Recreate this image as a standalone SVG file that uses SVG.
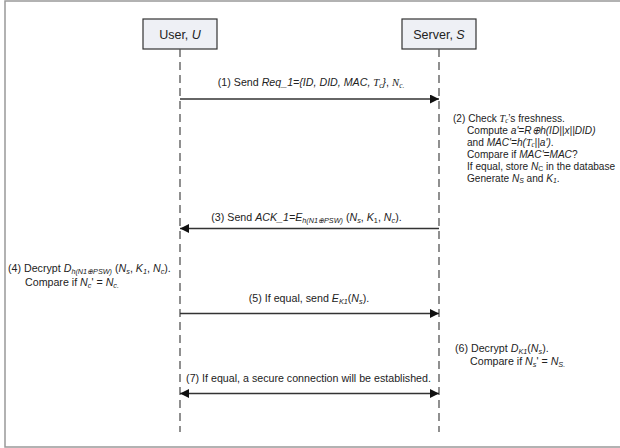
<svg xmlns="http://www.w3.org/2000/svg" width="620" height="448" viewBox="0 0 620 448">
<style>
text{font-family:"Liberation Sans",Arial,sans-serif;font-size:11px;fill:#222}
.i{font-style:italic}
.t{font-family:"Liberation Serif","Times New Roman",serif;font-style:italic}
.s{font-size:7.5px}
.box{fill:#eef0f5;stroke:#333;stroke-width:1.2}
.life{stroke:#555;stroke-width:1.3;stroke-dasharray:8 5;fill:none}
.msg{stroke:#333;stroke-width:1.3;fill:none}
.hd{font-size:12.5px}
</style>
<defs>
<marker id="ah" viewBox="0 0 10 10" refX="10" refY="5" markerWidth="9" markerHeight="9" markerUnits="userSpaceOnUse" orient="auto-start-reverse">
<path d="M0,0 L10,5 L0,10 z" fill="#111"/>
</marker>
</defs>
<rect x="5" y="1" width="620" height="446" fill="#fff" stroke="#999" stroke-width="1.5"/>
<g id="user">
<rect class="box" x="143" y="19" width="74" height="30"/>
<text class="hd" x="180" y="38.5" text-anchor="middle">User, <tspan class="i">U</tspan></text>
</g>
<g id="server">
<rect class="box" x="402" y="19" width="74" height="30"/>
<text class="hd" x="439" y="38.5" text-anchor="middle">Server, <tspan class="i">S</tspan></text>
</g>
<g id="connectors">
<line class="life" x1="180" y1="49" x2="180" y2="432"/>
<line class="life" x1="439" y1="49" x2="439" y2="432"/>
<line class="msg" x1="180" y1="99" x2="439" y2="99" marker-end="url(#ah)"/>
<line class="msg" x1="439" y1="228.5" x2="180" y2="228.5" marker-end="url(#ah)"/>
<line class="msg" x1="180" y1="313.5" x2="439" y2="313.5" marker-end="url(#ah)"/>
<line class="msg" x1="180" y1="393.5" x2="439" y2="393.5" marker-start="url(#ah)" marker-end="url(#ah)"/>
</g>
<g id="labels">
<text transform="translate(311,86) scale(0.97,1)" text-anchor="middle">(1) Send <tspan class="i">Req_1={ID, DID, MAC, </tspan><tspan class="t">T</tspan><tspan class="t s" dy="2">c</tspan><tspan class="i" dy="-2">}</tspan>, <tspan class="t">N</tspan><tspan class="t s" dy="2">c.</tspan></text>
<text transform="translate(306.5,220.5) scale(0.97,1)" text-anchor="middle">(3) Send <tspan class="i">ACK_1=E</tspan><tspan class="i s" dy="2">h(N1⊕PSW)</tspan><tspan dy="-2"> (</tspan><tspan class="i">N</tspan><tspan class="i s" dy="2">s</tspan><tspan dy="-2">, </tspan><tspan class="i">K</tspan><tspan class="s" dy="2">1</tspan><tspan dy="-2">, </tspan><tspan class="i">N</tspan><tspan class="i s" dy="2">c</tspan><tspan dy="-2">).</tspan></text>
<text transform="translate(309,302) scale(0.97,1)" text-anchor="middle">(5) If equal, send <tspan class="i">E</tspan><tspan class="i s" dy="2">K1</tspan><tspan dy="-2">(</tspan><tspan class="i">N</tspan><tspan class="i s" dy="2">s</tspan><tspan dy="-2">).</tspan></text>
<text transform="translate(308.5,381.5) scale(0.97,1)" text-anchor="middle">(7) If equal, a secure connection will be established.</text>
</g>
<g id="step2">
<text transform="translate(453,121.5) scale(0.92,1)">(2) Check <tspan class="t">T</tspan><tspan class="t s" dy="1.5">c</tspan><tspan dy="-1.5">’s freshness.</tspan></text>
<text transform="translate(467,133.5) scale(0.92,1)">Compute <tspan class="i">a'=R⊕h(ID||x||DID)</tspan></text>
<text transform="translate(467,145.5) scale(0.92,1)">and <tspan class="i">MAC'=h(</tspan><tspan class="t">T</tspan><tspan class="t s" dy="1.5">c</tspan><tspan class="i" dy="-1.5">||a')</tspan>.</text>
<text transform="translate(467,157.5) scale(0.92,1)">Compare if <tspan class="i">MAC'=MAC</tspan>?</text>
<text transform="translate(467,169.5) scale(0.92,1)">If equal, store <tspan class="i">N</tspan><tspan class="s" dy="1.5">C</tspan><tspan dy="-1.5"> in the database</tspan></text>
<text transform="translate(467,181.5) scale(0.92,1)">Generate <tspan class="i">N</tspan><tspan class="i s" dy="1.5">S</tspan><tspan dy="-1.5"> and </tspan><tspan class="i">K</tspan><tspan class="i s" dy="1.5">1</tspan><tspan dy="-1.5">.</tspan></text>
</g>
<g id="step4">
<text transform="translate(8,272) scale(0.97,1)">(4) Decrypt <tspan class="i">D</tspan><tspan class="i s" dy="2">h(N1⊕PSW)</tspan><tspan dy="-2"> (</tspan><tspan class="i">N</tspan><tspan class="i s" dy="2">s</tspan><tspan dy="-2">, </tspan><tspan class="i">K</tspan><tspan class="i s" dy="2">1</tspan><tspan dy="-2">, </tspan><tspan class="i">N</tspan><tspan class="i s" dy="2">c</tspan><tspan dy="-2">).</tspan></text>
<text transform="translate(25,285.5) scale(0.97,1)">Compare if <tspan class="i">N</tspan><tspan class="i s" dy="2">c</tspan><tspan dy="-2">' = </tspan><tspan class="i">N</tspan><tspan class="i s" dy="2">c.</tspan></text>
</g>
<g id="step6">
<text transform="translate(455,352) scale(0.97,1)">(6) Decrypt <tspan class="i">D</tspan><tspan class="i s" dy="2">K1</tspan><tspan dy="-2">(</tspan><tspan class="i">N</tspan><tspan class="i s" dy="2">s</tspan><tspan dy="-2">).</tspan></text>
<text transform="translate(470,365) scale(0.97,1)">Compare if <tspan class="i">N</tspan><tspan class="i s" dy="2">s</tspan><tspan dy="-2">' = </tspan><tspan class="i">N</tspan><tspan class="i s" dy="2">S.</tspan></text>
</g>
</svg>
